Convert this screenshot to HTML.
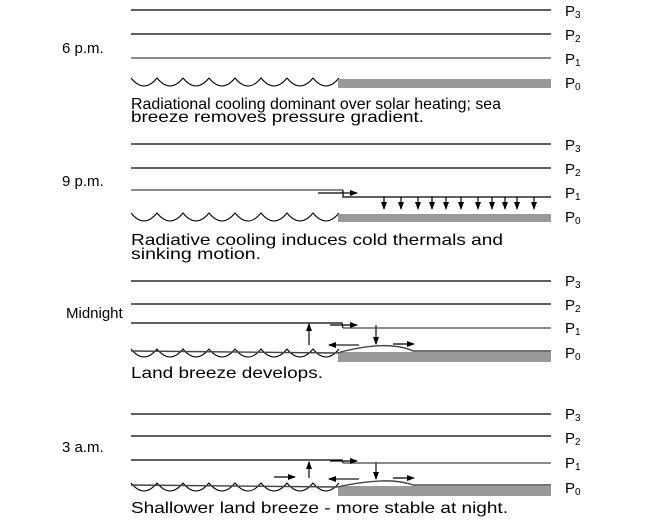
<!DOCTYPE html>
<html><head><meta charset="utf-8"><style>
html,body{margin:0;padding:0;background:#fff;width:650px;height:524px;overflow:hidden}
svg{display:block}
text{font-family:"Liberation Sans",Arial,sans-serif;fill:#000}
</style></head><body>
<svg width="650" height="524" viewBox="0 0 650 524" xmlns="http://www.w3.org/2000/svg">
<defs>
<marker id="ah" markerWidth="8" markerHeight="6" refX="7" refY="3" orient="auto" markerUnits="userSpaceOnUse"><path d="M0,0 L8,3 L0,6 Z" fill="#000"/></marker>
<path id="wave" d="M131,0 q13,16 26,0 q13,16 26,0 q13,16 26,0 q13,16 26,0 q13,16 26,0 q13,16 26,0 q13,16 26,0 q13,16 26,0" fill="none" stroke="#000" stroke-width="1"/>
</defs>
<g stroke-width="1.2">
<line x1="131" y1="10" x2="551" y2="10" stroke="#000"/>
<line x1="131" y1="34" x2="551" y2="34" stroke="#000"/>
<line x1="131" y1="58" x2="551" y2="58" stroke="#666" stroke-width="1.6"/>
<use href="#wave" y="78"/>
<rect x="338" y="79" width="213" height="9" fill="#999"/>
<line x1="131" y1="144" x2="551" y2="144" stroke="#000"/>
<line x1="131" y1="168" x2="551" y2="168" stroke="#000"/>
<line x1="131" y1="190" x2="343" y2="190" stroke="#666" stroke-width="1.6"/>
<polyline points="343,190 343,197 551,197" fill="none" stroke="#000"/>
<line x1="318" y1="193" x2="357" y2="193" stroke="#000" marker-end="url(#ah)"/>
<g stroke="#000">
<line x1="384" y1="197" x2="384" y2="209" marker-end="url(#ah)"/>
<line x1="401" y1="197" x2="401" y2="209" marker-end="url(#ah)"/>
<line x1="418" y1="197" x2="418" y2="209" marker-end="url(#ah)"/>
<line x1="432" y1="197" x2="432" y2="209" marker-end="url(#ah)"/>
<line x1="446" y1="197" x2="446" y2="209" marker-end="url(#ah)"/>
<line x1="461" y1="197" x2="461" y2="209" marker-end="url(#ah)"/>
<line x1="478" y1="197" x2="478" y2="209" marker-end="url(#ah)"/>
<line x1="492" y1="197" x2="492" y2="209" marker-end="url(#ah)"/>
<line x1="505" y1="197" x2="505" y2="209" marker-end="url(#ah)"/>
<line x1="517" y1="197" x2="517" y2="209" marker-end="url(#ah)"/>
<line x1="534" y1="197" x2="534" y2="209" marker-end="url(#ah)"/>
</g>
<use href="#wave" y="213"/>
<rect x="338" y="214" width="213" height="8" fill="#999"/>
<line x1="131" y1="281" x2="551" y2="281" stroke="#000"/>
<line x1="131" y1="304" x2="551" y2="304" stroke="#000"/>
<polyline points="131,323 342,323 343,328" fill="none" stroke="#000"/>
<line x1="343" y1="328" x2="551" y2="328" stroke="#666" stroke-width="1.6"/>
<line x1="330" y1="325" x2="357" y2="325" stroke="#000" marker-end="url(#ah)"/>
<line x1="309" y1="345" x2="309" y2="324" stroke="#444" stroke-width="1.6" marker-end="url(#ah)"/>
<line x1="376" y1="325" x2="376" y2="344" stroke="#444" stroke-width="1.6" marker-end="url(#ah)"/>
<line x1="359" y1="345" x2="329" y2="345" stroke="#444" stroke-width="1.6" marker-end="url(#ah)"/>
<line x1="393" y1="344" x2="414" y2="344" stroke="#000" marker-end="url(#ah)"/>
<use href="#wave" y="349"/>
<rect x="338" y="352" width="213" height="10" fill="#999"/>
<path d="M131,351 L337,353 Q370,344 392,346 Q405,347 413,351 L551,351" fill="none" stroke="#444" stroke-width="1.4"/>
<line x1="131" y1="414" x2="551" y2="414" stroke="#000"/>
<line x1="131" y1="436" x2="551" y2="436" stroke="#000"/>
<polyline points="131,460 342,460 343,463" fill="none" stroke="#000"/>
<line x1="343" y1="463" x2="551" y2="463" stroke="#666" stroke-width="1.6"/>
<line x1="330" y1="461" x2="357" y2="461" stroke="#000" marker-end="url(#ah)"/>
<line x1="309" y1="478" x2="309" y2="462" stroke="#444" stroke-width="1.6" marker-end="url(#ah)"/>
<line x1="376" y1="462" x2="376" y2="479" stroke="#444" stroke-width="1.6" marker-end="url(#ah)"/>
<line x1="359" y1="479" x2="329" y2="479" stroke="#444" stroke-width="1.6" marker-end="url(#ah)"/>
<line x1="393" y1="478" x2="414" y2="478" stroke="#000" marker-end="url(#ah)"/>
<line x1="274" y1="477" x2="295" y2="477" stroke="#000" marker-end="url(#ah)"/>
<use href="#wave" y="483"/>
<rect x="338" y="486" width="213" height="10" fill="#999"/>
<path d="M131,485 L337,487 Q370,480 392,481 Q405,482 413,485 L551,485" fill="none" stroke="#444" stroke-width="1.4"/>
</g>
<g font-size="15">
<text x="565" y="16">P<tspan font-size="10" dy="2">3</tspan></text>
<text x="565" y="40">P<tspan font-size="10" dy="2">2</tspan></text>
<text x="565" y="64">P<tspan font-size="10" dy="2">1</tspan></text>
<text x="565" y="88">P<tspan font-size="10" dy="2">0</tspan></text>
<text x="565" y="150">P<tspan font-size="10" dy="2">3</tspan></text>
<text x="565" y="174">P<tspan font-size="10" dy="2">2</tspan></text>
<text x="565" y="198">P<tspan font-size="10" dy="2">1</tspan></text>
<text x="565" y="222">P<tspan font-size="10" dy="2">0</tspan></text>
<text x="565" y="286">P<tspan font-size="10" dy="2">3</tspan></text>
<text x="565" y="310">P<tspan font-size="10" dy="2">2</tspan></text>
<text x="565" y="333">P<tspan font-size="10" dy="2">1</tspan></text>
<text x="565" y="358">P<tspan font-size="10" dy="2">0</tspan></text>
<text x="565" y="419">P<tspan font-size="10" dy="2">3</tspan></text>
<text x="565" y="443">P<tspan font-size="10" dy="2">2</tspan></text>
<text x="565" y="468">P<tspan font-size="10" dy="2">1</tspan></text>
<text x="565" y="493">P<tspan font-size="10" dy="2">0</tspan></text>
<text x="62" y="53">6 p.m.</text>
<text x="62" y="186">9 p.m.</text>
<text x="66" y="318">Midnight</text>
<text x="62" y="452">3 a.m.</text>
</g>
<g font-size="16">
<text x="131" y="109" textLength="370" lengthAdjust="spacingAndGlyphs">Radiational cooling dominant over solar heating; sea</text>
<text x="131" y="122" textLength="293" lengthAdjust="spacingAndGlyphs">breeze removes pressure gradient.</text>
<text x="131" y="245" textLength="372" lengthAdjust="spacingAndGlyphs">Radiative cooling induces cold thermals and</text>
<text x="131" y="259" textLength="130" lengthAdjust="spacingAndGlyphs">sinking motion.</text>
<text x="131" y="378" textLength="192" lengthAdjust="spacingAndGlyphs">Land breeze develops.</text>
<text x="131" y="513" textLength="377" lengthAdjust="spacingAndGlyphs">Shallower land breeze - more stable at night.</text>
</g>
</svg>
</body></html>
